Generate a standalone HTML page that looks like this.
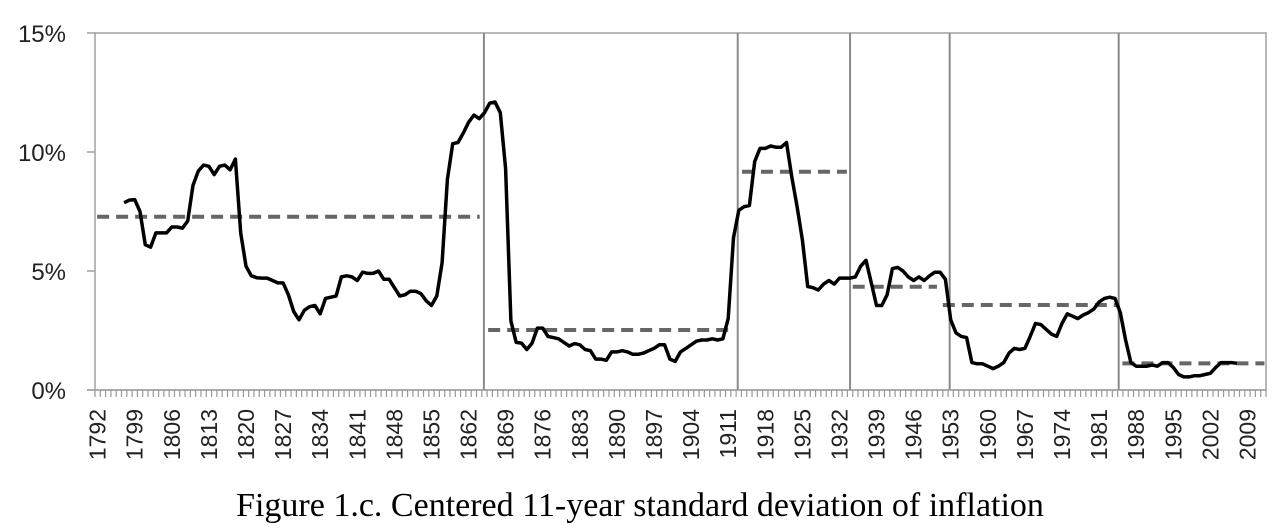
<!DOCTYPE html>
<html><head><meta charset="utf-8"><style>
html,body{margin:0;padding:0;background:#fff;width:1280px;height:530px;overflow:hidden}
svg{display:block}
</style></head><body>
<svg id="chart" width="1280" height="530" xmlns="http://www.w3.org/2000/svg">
<g id="grid"></g><g id="means"></g><g id="line"></g><g id="axes"></g>
<text x="640" y="516" text-anchor="middle" font-family="Liberation Serif, serif" font-size="34" fill="#000">Figure 1.c. Centered 11-year standard deviation of inflation</text>
</svg>
<script>
const firstYear = 1792, lastYear = 2012;
const dataStartYear = 1797;
const seriesValues = [7.87,7.98,8.0,7.5,6.1,6.0,6.6,6.6,6.6,6.85,6.85,6.8,7.1,8.6,9.2,9.45,9.4,9.05,9.4,9.45,9.25,9.7,6.6,5.2,4.8,4.72,4.7,4.7,4.6,4.5,4.5,4.0,3.3,2.95,3.35,3.5,3.55,3.2,3.85,3.9,3.95,4.75,4.8,4.75,4.6,4.95,4.9,4.9,5.0,4.65,4.65,4.3,3.95,4.0,4.15,4.15,4.05,3.75,3.55,3.95,5.35,8.85,10.35,10.4,10.8,11.25,11.55,11.4,11.65,12.05,12.1,11.65,9.3,2.9,2.0,1.97,1.7,1.97,2.6,2.6,2.25,2.2,2.15,2.0,1.85,1.95,1.9,1.7,1.65,1.3,1.3,1.25,1.6,1.6,1.65,1.6,1.5,1.5,1.55,1.65,1.75,1.9,1.9,1.3,1.2,1.6,1.75,1.9,2.05,2.1,2.1,2.15,2.1,2.15,3.0,6.4,7.55,7.7,7.75,9.6,10.15,10.15,10.25,10.2,10.2,10.4,8.95,7.7,6.3,4.35,4.3,4.2,4.45,4.6,4.45,4.7,4.7,4.7,4.75,5.2,5.45,4.5,3.55,3.55,4.0,5.1,5.15,5.0,4.75,4.6,4.75,4.6,4.8,4.95,4.95,4.65,2.95,2.4,2.25,2.2,1.15,1.1,1.1,1.0,0.9,1.0,1.15,1.55,1.75,1.7,1.75,2.25,2.8,2.75,2.55,2.35,2.25,2.8,3.2,3.1,3.0,3.15,3.25,3.4,3.7,3.85,3.9,3.85,3.25,2.1,1.15,1.0,1.0,1.0,1.05,1.0,1.15,1.15,0.95,0.65,0.55,0.55,0.6,0.6,0.65,0.7,0.95,1.15,1.15,1.15,1.12];
const breakYears = [1865.4,1913.3,1934.5,1953.3,1985.2];
const meanStarts = [1792.4,1866.2,1914.1,1935.0,1952.0,1985.9];
const meanEnds = [1864.6,1912.4,1933.9,1950.9,1984.8,2012.7];
const meanValues = [7.28,2.52,9.17,4.34,3.57,1.12];
const yTicks = [0,5,10,15];
const yTickLabels = ["0%","5%","10%","15%"];

const L=95,R=1266,T=33,B=390;
const nCat = lastYear-firstYear+1;
const cw=(R-L)/nCat;
const xEdge=yr=>L+(yr-firstYear)*cw;
const xCenter=yr=>L+(yr-firstYear+0.5)*cw;
const yS=v=>B-(v/15)*(B-T);
const NS="http://www.w3.org/2000/svg";
function mk(tag,attrs,parent){const e=document.createElementNS(NS,tag);for(const k in attrs)e.setAttribute(k,attrs[k]);parent.appendChild(e);return e;}
const grid=document.getElementById('grid'),means=document.getElementById('means'),lineG=document.getElementById('line'),axes=document.getElementById('axes');

let fr=mk('rect',{x:L,y:T,width:R-L,height:B-T,fill:'none',stroke:'#a0a0a0','stroke-width':1.5},grid);


breakYears.forEach(b=>{
  const l=mk('line',{x1:xEdge(b),x2:xEdge(b),y1:T,y2:B,stroke:'#8a8a8a','stroke-width':2},grid);
  
  
});
yTicks.forEach((t,i)=>{
  const y=yS(t);
  const tk=mk('line',{x1:L-8,x2:L,y1:y,y2:y,stroke:'#a0a0a0','stroke-width':1.5},axes);
  
  
  const tx=mk('text',{x:66,y:y+9,'text-anchor':'end','font-family':'Liberation Sans, sans-serif','font-size':24,fill:'#222'},axes);
  tx.textContent=yTickLabels[i];
  
  
});
const xa=mk('line',{x1:L-8,x2:R,y1:B,y2:B,stroke:'#a0a0a0','stroke-width':1.5},axes);


for(let i=0;i<=nCat;i++){
  const x=L+i*cw;
  const tk=mk('line',{x1:x,x2:x,y1:B,y2:B+7,stroke:'#999','stroke-width':1.2},axes);
  
  
}
for(let yr=firstYear;yr<=lastYear;yr+=7){
  const x=xCenter(yr)+8;
  const tx=mk('text',{x:x,y:409,transform:`rotate(-90 ${x} 409)`,'text-anchor':'end','font-family':'Liberation Sans, sans-serif','font-size':23,fill:'#222'},axes);
  tx.textContent=String(yr);
  
  
}
meanValues.forEach((v,i)=>{
  const l=mk('line',{x1:xEdge(meanStarts[i]),x2:xEdge(meanEnds[i]),y1:yS(v),y2:yS(v),stroke:'#666','stroke-width':4,'stroke-dasharray':'12 7'},means);
  
  
});
const pts=seriesValues.map((v,i)=>xCenter(dataStartYear+i).toFixed(1)+','+yS(v).toFixed(1)).join(' ');
const pl=mk('polyline',{points:pts,fill:'none',stroke:'#000','stroke-width':3.5,'stroke-linejoin':'round'},lineG);


</script>
</body></html>
